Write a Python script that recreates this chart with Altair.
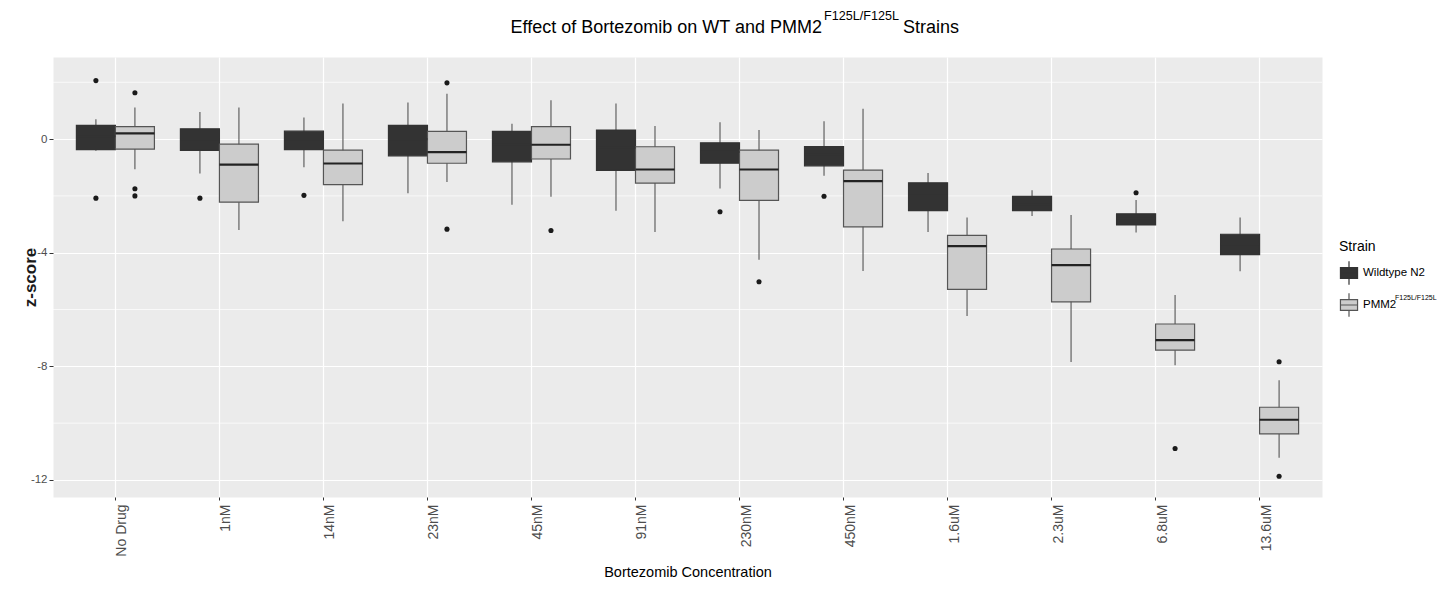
import altair as alt
import pandas as pd

# ---------------- data ----------------
concentrations = ["No Drug", "1nM", "14nM", "23nM", "45nM", "91nM", "230nM",
                  "450nM", "1.6uM", "2.3uM", "6.8uM", "13.6uM"]
strains = ["Wildtype N2", "PMM2 F125L/F125L"]

wt_lower = [-0.41, -1.21, -0.99, -1.91, -2.31, -2.52, -1.74, -1.29, -3.27, -2.71, -3.29, -4.65]
wt_q1 = [-0.37, -0.40, -0.37, -0.59, -0.80, -1.10, -0.85, -0.94, -2.52, -2.52, -3.02, -4.07]
wt_median = [0.10, 0.00, 0.00, 0.00, -0.20, -0.30, -0.45, -0.55, -2.00, -2.30, -2.80, -3.70]
wt_q3 = [0.48, 0.36, 0.28, 0.48, 0.27, 0.32, -0.13, -0.26, -1.54, -2.02, -2.63, -3.35]
wt_upper = [0.70, 0.95, 0.76, 1.29, 0.54, 1.25, 0.59, 0.63, -1.19, -1.80, -2.14, -2.76]

pmm_lower = [-1.06, -3.20, -2.89, -1.51, -2.03, -3.27, -4.25, -4.64, -6.23, -7.85, -7.96, -11.22]
pmm_q1 = [-0.35, -2.22, -1.60, -0.85, -0.70, -1.55, -2.16, -3.09, -5.29, -5.73, -7.43, -10.38]
pmm_median = [0.20, -0.90, -0.86, -0.46, -0.20, -1.07, -1.07, -1.48, -3.77, -4.44, -7.08, -9.88]
pmm_q3 = [0.44, -0.18, -0.39, 0.27, 0.44, -0.27, -0.39, -1.09, -3.39, -3.87, -6.51, -9.44]
pmm_upper = [1.11, 1.11, 1.25, 1.60, 1.37, 0.46, 0.32, 1.07, -2.76, -2.67, -5.49, -8.49]

outlier_conc = ["No Drug", "No Drug", "1nM", "14nM", "230nM", "450nM", "6.8uM",
                "No Drug", "No Drug", "No Drug", "23nM", "23nM", "45nM", "230nM",
                "6.8uM", "13.6uM", "13.6uM"]
outlier_strain = [strains[0]] * 7 + [strains[1]] * 10
outlier_value = [2.06, -2.08, -2.08, -1.98, -2.56, -2.01, -1.89,
                 1.63, -1.75, -2.00, 1.98, -3.17, -3.22, -5.02,
                 -10.89, -7.84, -11.87]

major_breaks = [0, -4, -8, -12]
minor_breaks = [2, -2, -6, -10]

# ---------------- tables built from the lists ----------------
rows = []
for i, c in enumerate(concentrations):
    rows.append({"conc": c, "strain": strains[0], "lower": wt_lower[i], "q1": wt_q1[i],
                 "median": wt_median[i], "q3": wt_q3[i], "upper": wt_upper[i]})
    rows.append({"conc": c, "strain": strains[1], "lower": pmm_lower[i], "q1": pmm_q1[i],
                 "median": pmm_median[i], "q3": pmm_q3[i], "upper": pmm_upper[i]})
boxes = pd.DataFrame(rows)
outliers = pd.DataFrame({"conc": outlier_conc, "strain": outlier_strain, "value": outlier_value})
minor_df = pd.DataFrame({"v": minor_breaks})

FONT = "Liberation Sans, Arial, sans-serif"

W, H = 1269, 440

x_enc = alt.X(
    "conc:N", sort=concentrations,
    scale=alt.Scale(domain=concentrations, paddingInner=0.25, paddingOuter=0.225),
    axis=alt.Axis(
        title="Bortezomib Concentration", labelAngle=270, labelAlign="right",
        labelBaseline="top", labelFontSize=14, labelFont=FONT, labelColor="#4d4d4d",
        labelPadding=4, tickSize=3, tickColor="#333333", grid=True, gridColor="white",
        gridWidth=1.2, domain=False, bandPosition=0.5, titleFont=FONT,
        titleFontSize=14.5, titleFontWeight="normal", titleColor="black",
        titleX=W / 2, titleY=79, titleBaseline="alphabetic", titleAlign="center"),
)
xoff_enc = alt.XOffset("strain:N", sort=strains,
                       scale=alt.Scale(domain=strains, paddingInner=0, paddingOuter=0))

y_scale = alt.Scale(domain=[-12.6, 2.89], nice=False, zero=False)
y_axis = alt.Axis(
    title="z-score", values=major_breaks, labelExpr="toString(datum.value)",
    labelFontSize=11.5, labelFont=FONT, labelColor="#4d4d4d", labelPadding=2,
    tickSize=4, tickColor="#333333", grid=True, gridColor="white", gridWidth=1.2,
    domain=False, titleFont=FONT, titleFontSize=17, titleFontWeight="bold",
    titleColor="#1a1a1a", titleAngle=270, titleX=-23, titleY=H / 2,
    titleAlign="center", titleBaseline="middle")


def y_enc(field):
    return alt.Y(f"{field}:Q", scale=y_scale, axis=y_axis)


legend = alt.Legend(
    title="Strain", orient="none", legendX=1286, legendY=183, padding=0,
    symbolType="M-0.95,-0.6H0.95V0.6H-0.95Z M0,-0.6V-1.3 M0,0.6V1.3 M-0.95,0H0.95",
    symbolSize=324, symbolStrokeWidth=1.2, titleFont=FONT, titleFontSize=14,
    titleFontWeight="normal", titleColor="black", titlePadding=9,
    labelFont=FONT, labelFontSize=11.5, labelColor="black", labelOffset=4,
    rowPadding=2, labelExpr="datum.value == 'Wildtype N2' ? datum.label : 'PMM2'")

fill_enc = alt.Fill("strain:N", sort=strains,
                    scale=alt.Scale(domain=strains, range=["#333333", "#CCCCCC"]),
                    legend=legend)
stroke_enc = alt.Stroke("strain:N", sort=strains,
                        scale=alt.Scale(domain=strains, range=["#333333", "#555555"]),
                        legend=legend)
median_color = alt.Color("strain:N", sort=strains,
                         scale=alt.Scale(domain=strains, range=["#333333", "#222222"]),
                         legend=None)

minor = alt.Chart(minor_df).mark_rule(color="white", strokeWidth=0.7).encode(y=y_enc("v"))

whiskers = alt.Chart(boxes).mark_rule(color="#555555", strokeWidth=1.1).encode(
    x=x_enc, xOffset=xoff_enc, y=y_enc("lower"), y2="upper")

box = alt.Chart(boxes).mark_bar(strokeWidth=1.2).encode(
    x=x_enc, xOffset=xoff_enc, y=y_enc("q1"), y2="q3", fill=fill_enc, stroke=stroke_enc)

med = alt.Chart(boxes).mark_bar(filled=False, strokeWidth=2.2).encode(
    x=x_enc, xOffset=xoff_enc, y=y_enc("median"), y2="median", color=median_color)

pts = alt.Chart(outliers).mark_circle(size=26, color="#1a1a1a", opacity=1).encode(
    x=x_enc, xOffset=xoff_enc, y=y_enc("value"))

one = pd.DataFrame({"k": [0]})
title_main = alt.Chart(one).mark_text(
    align="right", baseline="alphabetic", font=FONT, fontSize=18, color="black").encode(
    x=alt.value(769), y=alt.value(-24), text=alt.value("Effect of Bortezomib on WT and PMM2"))
title_sup = alt.Chart(one).mark_text(
    align="left", baseline="alphabetic", font=FONT, fontSize=12.6, color="black").encode(
    x=alt.value(771), y=alt.value(-37), text=alt.value("F125L/F125L"))
title_end = alt.Chart(one).mark_text(
    align="left", baseline="alphabetic", font=FONT, fontSize=18, color="black").encode(
    x=alt.value(850), y=alt.value(-24), text=alt.value("Strains"))
legend_sup = alt.Chart(one).mark_text(
    align="left", baseline="alphabetic", font=FONT, fontSize=7, color="black").encode(
    x=alt.value(1342), y=alt.value(243), text=alt.value("F125L/F125L"))

chart = alt.layer(minor, whiskers, box, med, pts, title_main, title_sup, title_end, legend_sup).properties(
    width=W, height=H,
    padding={"left": 45, "top": 49, "right": 118, "bottom": 84},
    autosize=alt.AutoSizeParams(type="none"),
    background="white",
).configure_view(fill="#EBEBEB", stroke="transparent")

chart.save("out.html", embed_options={"renderer": "svg", "actions": False})
